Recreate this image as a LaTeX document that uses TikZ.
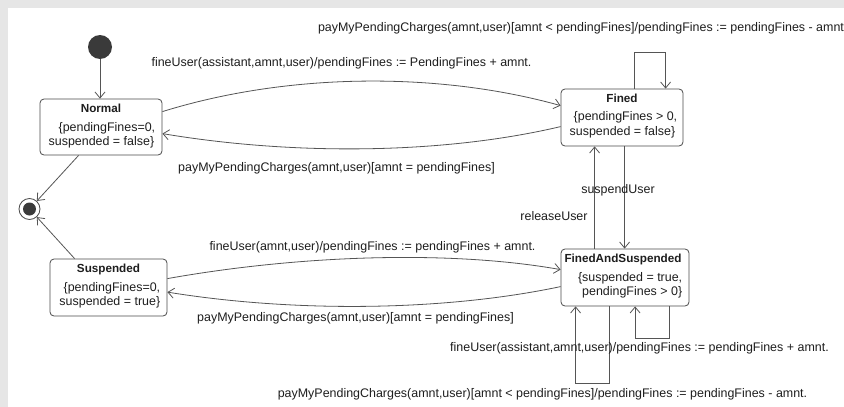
\documentclass[tikz,border=0pt]{standalone}
\usepackage{fontspec}
\setmainfont{Liberation Sans}
\usetikzlibrary{arrows.meta,calc}
\definecolor{edgegray}{HTML}{555555}
\definecolor{boxline}{HTML}{4A4A4A}
\definecolor{txt}{HTML}{1E1E1E}
\definecolor{frame}{HTML}{E6E6E6}
\definecolor{dot}{HTML}{3A3A3A}
\begin{document}
\begin{tikzpicture}[x=1pt,y=-1pt,
  every node/.style={text=txt, font=\fontsize{12.45}{14}\selectfont},
  statebox/.style={draw=boxline, rounded corners=4pt, line width=0.8pt, fill=white, inner sep=0pt, minimum height=57pt},
  title/.style={anchor=base, inner sep=0pt, font=\fontsize{11.7}{14}\selectfont\bfseries},
  cline/.style={anchor=base east, inner sep=0pt},
  elabel/.style={anchor=base, inner sep=0pt},
  trans/.style={draw=edgegray, line width=0.8pt, -{Straight Barb[length=6pt,width=10pt]}},
]
% page frame
\useasboundingbox (0,0) rectangle (844,407);
\fill[frame] (0,0) rectangle (844,407);
\fill[white] (8,8) rectangle (844,407);

% pseudo states
\node[circle, fill=dot, minimum size=24pt, inner sep=0pt] (init) at (100,47) {};
\node[circle, draw=boxline, line width=0.8pt, fill=white, minimum size=21pt, inner sep=0pt] (final) at (29.5,209) {};
\fill[dot] (final.center) circle (6.5pt);

% states
\node[statebox, minimum width=122pt, minimum height=56pt] (normal) at (101,127) {};
\node[title] (normalt) at ($(normal.north)+(0,14)$) {Normal};
\node[cline] (normalc1) at ($(normal.north east)+(-7,33)$) {\{pendingFines=0,};
\node[cline] (normalc2) at ($(normal.north east)+(-8,47)$) {suspended = false\}};

\node[statebox, minimum width=122pt] (fined) at (622,117.5) {};
\node[title] (finedt) at ($(fined.north)+(0,14)$) {Fined};
\node[cline] (finedc1) at ($(fined.north east)+(-6,32)$) {\{pendingFines > 0,};
\node[cline] (finedc2) at ($(fined.north east)+(-8,47)$) {suspended = false\}};

\node[statebox, minimum width=128pt] (fas) at (625,277.5) {};
\node[title] (fast) at ($(fas.north)+(-2,14)$) {FinedAndSuspended};
\node[cline] (fasc1) at ($(fas.north east)+(-7,33)$) {\{suspended = true,};
\node[cline] (fasc2) at ($(fas.north east)+(-7,47)$) {pendingFines > 0\}};

\node[statebox, minimum width=117pt] (susp) at (108.5,287.5) {};
\node[title] (suspt) at ($(susp.north)+(0,14)$) {Suspended};
\node[cline] (suspc1) at ($(susp.north east)+(-7,33)$) {\{pendingFines=0,};
\node[cline] (suspc2) at ($(susp.north east)+(-7,47)$) {suspended = true\}};

% transitions
\draw[trans] (init) -- (init |- normal.north);
\draw[trans] ($(normal.south west)+(39,0)$) -- (final);
\draw[trans] ($(susp.north west)+(25,0)$) -- (final);

\draw[trans] ($(normal.north east)+(0,13)$) .. controls (290,72) and (440,72) .. ($(fined.north west)+(0,17)$);
\draw[trans] ($(fined.north west)+(0,38)$) .. controls (440,155) and (290,155) .. ($(normal.north east)+(0,35)$);
\draw[trans] ($(fined.north west)+(74,0)$) -- ++(0,-36) -| ($(fined.north west)+(105,0)$);

\draw[trans] ($(fined.south west)+(64,0)$) -- ($(fas.north west)+(64,0)$);
\draw[trans] ($(fas.north west)+(34,0)$) -- ($(fined.south west)+(34,0)$);

\draw[trans] ($(susp.north east)+(0,20)$) .. controls (300,255) and (450,250) .. ($(fas.north west)+(0,21)$);
\draw[trans] ($(fas.north west)+(0,38)$) .. controls (440,312) and (290,312) .. ($(susp.north east)+(0,33.5)$);

\draw[trans] ($(fas.south west)+(109,0)$) -- ++(0,32) -| ($(fas.south west)+(74.5,0)$);
\draw[trans] ($(fas.south west)+(49,0)$) -- ++(0,77) -| ($(fas.south west)+(15,0)$);

% transition labels
\node[elabel] (l1) at (341.5,66) {fineUser(assistant,amnt,user)/pendingFines := PendingFines + amnt.};
\node[elabel] (l2) at (336.5,171) {payMyPendingCharges(amnt,user)[amnt = pendingFines]};
\node[elabel] (l3) at (581,31) {payMyPendingCharges(amnt,user)[amnt < pendingFines]/pendingFines := pendingFines - amnt};
\node[elabel] (l4) at (618,193) {suspendUser};
\node[elabel] (l5) at (554,220) {releaseUser};
\node[elabel] (l6) at (372.5,250) {fineUser(amnt,user)/pendingFines := pendingFines + amnt.};
\node[elabel] (l7) at (355.5,321) {payMyPendingCharges(amnt,user)[amnt = pendingFines]};
\node[elabel] (l8) at (639.5,351) {fineUser(assistant,amnt,user)/pendingFines := pendingFines + amnt.};
\node[elabel] (l9) at (542.5,397) {payMyPendingCharges(amnt,user)[amnt < pendingFines]/pendingFines := pendingFines - amnt.};
\end{tikzpicture}
\end{document}
